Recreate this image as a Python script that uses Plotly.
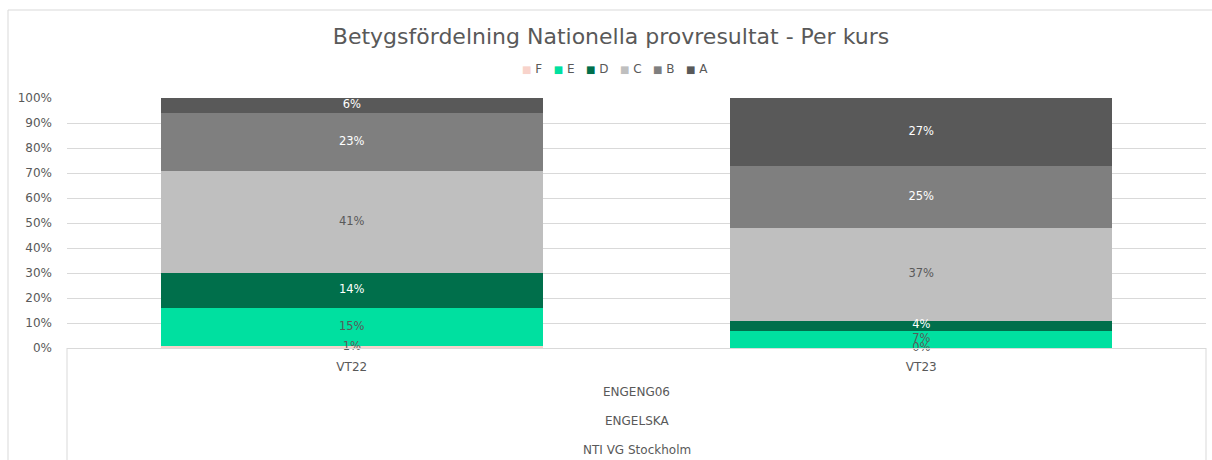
import plotly.graph_objects as go

categories = ["VT22", "VT23"]
grades = ["F", "E", "D", "C", "B", "A"]
values = {
    "F": [1, 0],
    "E": [15, 7],
    "D": [14, 4],
    "C": [41, 37],
    "B": [23, 25],
    "A": [6, 27],
}
colors = {
    "F": "#F8D3CB",
    "E": "#00E0A0",
    "D": "#006F4B",
    "C": "#BFBFBF",
    "B": "#7F7F7F",
    "A": "#595959",
}
label_colors = {
    "F": "#595959",
    "E": "#595959",
    "D": "#FFFFFF",
    "C": "#595959",
    "B": "#FFFFFF",
    "A": "#FFFFFF",
}
title = "Betygsfördelning Nationella provresultat - Per kurs"
level_labels = ["ENGENG06", "ENGELSKA", "NTI VG Stockholm"]
y_ticks = list(range(0, 101, 10))
y_tick_text = [f"{v}%" for v in y_ticks]

FONT = "DejaVu Sans"
GRAY = "#595959"
LINE = "#D9D9D9"

W, H = 1212, 460
L, R, T, B = 67, 6, 98, 112
pw, ph = W - L - R, H - T - B


def px_x(x):
    return (x - L) / pw


def px_y(y):
    return (H - B - y) / ph


fig = go.Figure()
for g in grades:
    fig.add_trace(go.Bar(
        name=g, x=categories, y=values[g],
        marker=dict(color=colors[g], line=dict(width=0)),
        hoverinfo="skip", showlegend=False,
    ))

# data labels at segment midpoints
lx, ly, lt, lc = [], [], [], []
for i, c in enumerate(categories):
    base = 0
    for g in grades:
        v = values[g][i]
        lx.append(c)
        ly.append(base + v / 2)
        lt.append(f"{v}%")
        lc.append(label_colors[g])
        base += v
fig.add_trace(go.Scatter(
    x=lx, y=ly, text=lt, mode="text", showlegend=False,
    textfont=dict(family=FONT, size=11.5, color=lc),
    cliponaxis=False, hoverinfo="skip",
))

shapes = [
    # outer chart frame
    dict(type="rect", xref="paper", yref="paper",
         x0=px_x(8), x1=px_x(1230), y0=px_y(480), y1=px_y(10),
         line=dict(color=LINE, width=1), layer="below"),
    # category box verticals
    dict(type="line", xref="paper", yref="paper",
         x0=0, x1=0, y0=0, y1=px_y(470), line=dict(color=LINE, width=1)),
    dict(type="line", xref="paper", yref="paper",
         x0=1, x1=1, y0=0, y1=px_y(470), line=dict(color=LINE, width=1)),
]

annotations = []
for lbl, yy in zip(level_labels, [392, 421, 450]):
    annotations.append(dict(
        text=lbl, xref="paper", yref="paper", x=0.5, y=px_y(yy),
        xanchor="center", yanchor="middle", showarrow=False,
        font=dict(family=FONT, size=12, color=GRAY),
    ))

# compact legend (Excel style)
sep = "&nbsp;&nbsp;&nbsp;"
legend_html = sep.join(
    f'<span style="color:{colors[g]};font-size:10px">■</span>&nbsp;{g}'
    for g in grades
)
annotations.append(dict(
    text=legend_html, xref="paper", yref="paper", x=px_x(615), y=px_y(69),
    xanchor="center", yanchor="middle", showarrow=False,
    font=dict(family=FONT, size=12, color=GRAY),
))

fig.update_layout(
    width=W, height=H,
    margin=dict(l=L, r=R, t=T, b=B, autoexpand=False),
    paper_bgcolor="white", plot_bgcolor="white",
    barmode="stack", bargap=0.33,
    showlegend=False,
    title=dict(text=title, x=px_x(611), y=1 - 36 / H, xref="paper",
               xanchor="center", yanchor="middle",
               font=dict(family=FONT, size=22, color=GRAY)),
    font=dict(family=FONT, color=GRAY),
    shapes=shapes, annotations=annotations,
    xaxis=dict(showgrid=False, showline=True, linecolor=LINE, linewidth=1,
               ticks="", tickfont=dict(family=FONT, size=12, color=GRAY),
               ticklabelstandoff=8, fixedrange=True),
    yaxis=dict(range=[0, 100], tickmode="array", tickvals=y_ticks,
               ticktext=y_tick_text,
               showgrid=True, gridcolor=LINE, gridwidth=1, zeroline=False,
               showline=False, ticks="", ticklabelstandoff=14,
               tickfont=dict(family=FONT, size=12, color=GRAY),
               fixedrange=True),
)

fig.write_html("out.html",
               config={"displayModeBar": False},
               post_script="document.body.style.margin='0';"
                           "document.body.style.overflow='hidden';")
